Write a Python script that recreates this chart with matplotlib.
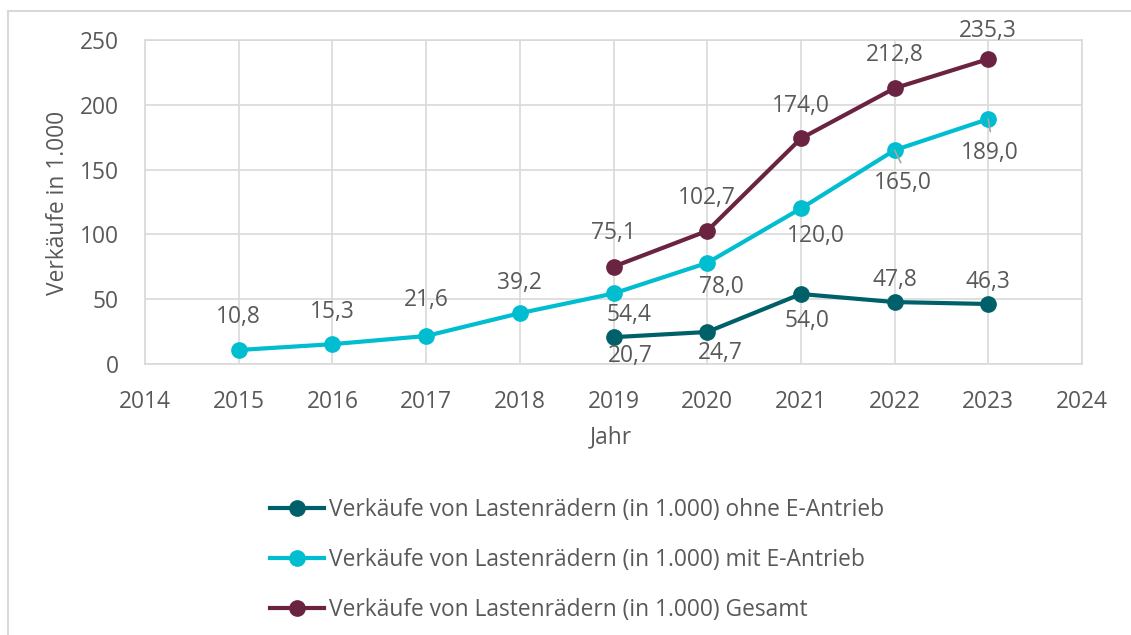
import matplotlib
matplotlib.use("Agg")
import matplotlib.pyplot as plt
from matplotlib.lines import Line2D

################################################################################
# DATEN
#------------------------------------------------------------------------------#

jahre_e = [2015, 2016, 2017, 2018, 2019, 2020, 2021, 2022, 2023]
werte_e = [10.8, 15.3, 21.6, 39.2, 54.4, 78.0, 120.0, 165.0, 189.0]

jahre_ohne = [2019, 2020, 2021, 2022, 2023]
werte_ohne = [20.7, 24.7, 54.0, 47.8, 46.3]

jahre_ges = [2019, 2020, 2021, 2022, 2023]
werte_ges = [75.1, 102.7, 174.0, 212.8, 235.3]

namen = ["Verkäufe von Lastenrädern (in 1.000) ohne E-Antrieb",
         "Verkäufe von Lastenrädern (in 1.000) mit E-Antrieb",
         "Verkäufe von Lastenrädern (in 1.000) Gesamt"]

x_ticks = list(range(2014, 2025))
y_ticks = [0, 50, 100, 150, 200, 250]

################################################################################
# STIL
#------------------------------------------------------------------------------#

plt.rcParams['font.family'] = ['Open Sans', 'DejaVu Sans']
grau_text = '#595959'
grau_gitter = '#D9D9D9'
farbe_ohne = '#00606A'
farbe_e = '#00BDD0'
farbe_ges = '#6A2341'
fs = 16.4

# Versatz der Beschriftungen in Pixel (dx, dy nach unten positiv)
vers_e = [(0, -33), (0, -32), (0, -36), (0, -30), (15, 22), (14, 24), (15, 28), (8, 33), (1, 34)]
vers_ohne = [(17, 19), (13, 21), (6, 27), (0, -22), (0, -22)]
vers_ges = [(0, -34), (0, -33), (0, -32), (0, -33), (0, -28)]

#------------------------------------------------------------------------------#

def beschriften(ax, xs, ys, versatz, leader=()):
    for i, (x, y) in enumerate(zip(xs, ys)):
        dx, dy = versatz[i]
        txt = f"{y:.1f}".replace('.', ',')
        ax.annotate(txt, (x, y), xytext=(dx * 0.72, -dy * 0.72),
                    textcoords='offset points', ha='center', va='center',
                    fontsize=fs, color=grau_text, zorder=5)
        if i in leader:
            ax.annotate('', (x, y), xytext=(dx * 0.72 * 0.6 + 1, -9),
                        textcoords='offset points',
                        arrowprops=dict(arrowstyle='-', color='#A6A6A6', lw=1.2,
                                        shrinkA=0, shrinkB=0), zorder=4)

################################################################################
# PLOT
#------------------------------------------------------------------------------#

fig = plt.figure(figsize=(11.31, 6.35), dpi=100)
ax = fig.add_axes([145 / 1131, 1 - 364 / 635, (1082 - 145) / 1131, (364 - 40) / 635])

kw = dict(lw=3.0, marker='o', markersize=11, zorder=3, clip_on=False)
ax.plot(jahre_ohne, werte_ohne, color=farbe_ohne, **kw)
ax.plot(jahre_e, werte_e, color=farbe_e, **kw)
ax.plot(jahre_ges, werte_ges, color=farbe_ges, **kw)

beschriften(ax, jahre_e, werte_e, vers_e, leader=(7, 8))
beschriften(ax, jahre_ohne, werte_ohne, vers_ohne)
beschriften(ax, jahre_ges, werte_ges, vers_ges)

ax.set_xlim(2014, 2024)
ax.set_ylim(0, 250)
ax.set_xticks(x_ticks)
ax.set_yticks(y_ticks)
ax.grid(True, color=grau_gitter, lw=1.2)
ax.set_axisbelow(True)
for s in ax.spines.values():
    s.set_color(grau_gitter)
    s.set_linewidth(1.2)
ax.tick_params(length=0, labelsize=fs, labelcolor=grau_text)
ax.tick_params(axis='y', pad=19)
ax.tick_params(axis='x', pad=19)

fig.text(58 / 1131, 1 - 203 / 635, "Verkäufe in 1.000", rotation=90,
         ha='center', va='center', fontsize=fs, color=grau_text)
fig.text(611 / 1131, 1 - 437 / 635, "Jahr", ha='center', va='center',
         fontsize=fs, color=grau_text)

handles = [Line2D([], [], color=c, lw=3.0, marker='o', markersize=11)
           for c in (farbe_ohne, farbe_e, farbe_ges)]
leg = fig.legend(handles, namen, loc='center', bbox_to_anchor=(577 / 1131, 1 - 560 / 635),
                 frameon=False, fontsize=fs, handlelength=2.4, handletextpad=0.2,
                 labelspacing=1.15)
for t in leg.get_texts():
    t.set_color(grau_text)

# Rahmen
fig.add_artist(Line2D([8 / 1131, 1], [1 - 11 / 635, 1 - 11 / 635], color=grau_gitter, lw=1.5))
fig.add_artist(Line2D([8 / 1131, 8 / 1131], [0, 1 - 11 / 635], color=grau_gitter, lw=1.5))

fig.savefig("out.png", dpi=100)
